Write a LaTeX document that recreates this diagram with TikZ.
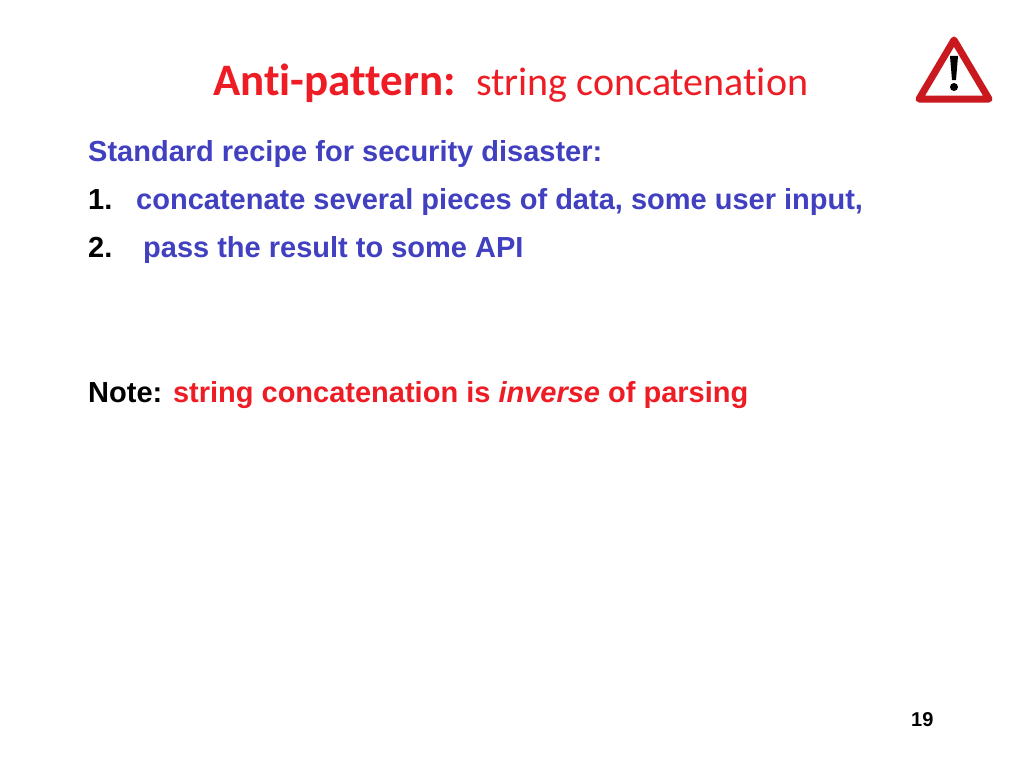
\documentclass[tikz,border=0pt]{standalone}
\usepackage{fontspec}
\setmainfont{Liberation Sans}
\newfontfamily\calfont[Ligatures=NoCommon]{Carlito}
\definecolor{tred}{RGB}{238,28,36}
\definecolor{tblue}{RGB}{64,64,192}
\begin{document}
\begin{tikzpicture}[x=1pt,y=-1pt,
  txt/.style={anchor=base west,inner sep=0pt,font=\fontsize{29}{33}\selectfont\bfseries}]
\useasboundingbox[fill=white] (0,0) rectangle (1024,768);
\node[anchor=base west,inner sep=0pt,text=tred] (title) at (213,95)
  {\calfont\fontsize{45}{50}\selectfont\bfseries Anti-pattern:\ \ \mdseries\fontsize{40}{46}\selectfont string concatenation};
\node[txt,text=tblue] (std) at (88,161) {Standard recipe for security disaster:};
\node[txt] (n1) at (88,209) {1.};
\node[txt,text=tblue] (l1) at (136,209) {concatenate several pieces of data, some user input,};
\node[txt] (n2) at (88,257) {2.};
\node[txt,text=tblue] (l2) at (143,257) {pass the result to some API};
\node[txt] (note) at (88,402) {Note: \textcolor{tred}{string concatenation is \textit{inverse} of parsing}};
\node[anchor=base west,inner sep=0pt,font=\fontsize{20}{22}\selectfont\bfseries] (pg) at (911,726) {19};
% warning sign
\draw[line width=7pt,line join=round,draw=tred!85!black,fill=white] (954,40) -- (989,99) -- (919,99) -- cycle;
\fill[black] (950,56) -- (958,56) -- (956,80) -- (952,80) -- cycle;
\fill[black] (954,87) circle (4);
\end{tikzpicture}
\end{document}
